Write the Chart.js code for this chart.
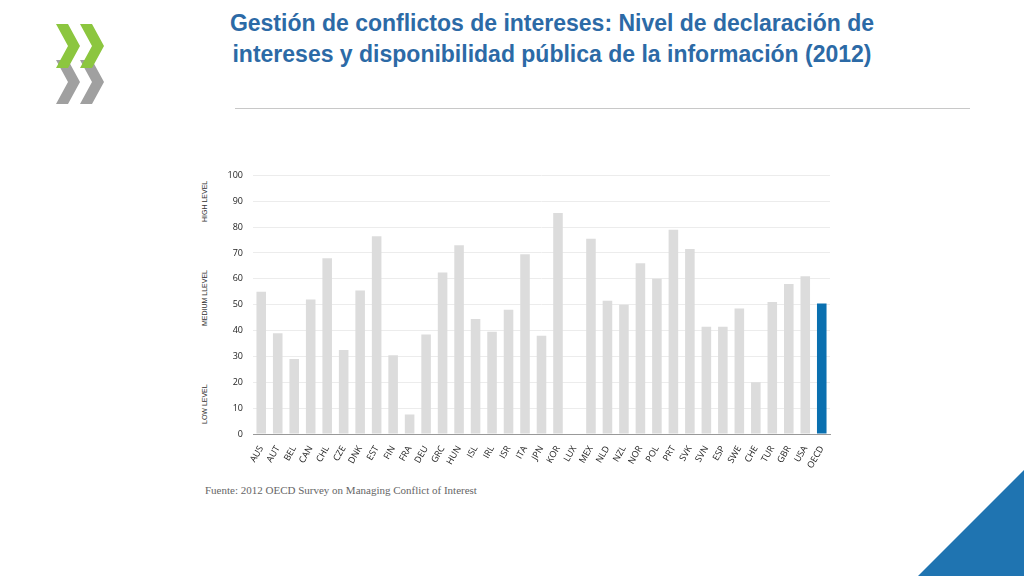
<!DOCTYPE html>
<html>
<head>
<meta charset="utf-8">
<script src="https://cdn.jsdelivr.net/npm/chart.js@4/dist/chart.umd.min.js"></script>
<style>
  body { margin: 0; width: 1024px; height: 576px; position: relative; background: #fff; overflow: hidden; font-family: "Liberation Sans", Arial, sans-serif; }
  #titulo { position: absolute; left: 228px; top: 8px; width: 648px; text-align: center; color: #2c6aa6; font-weight: bold; font-size: 23px; line-height: 31px; }
  #linea { position: absolute; left: 235px; top: 108px; width: 735px; height: 1px; background: #c8c8c8; }
  #grafico { position: absolute; left: 225px; top: 160px; width: 615px; height: 310px; }
  .lado { position: absolute; font-size: 7px; color: #333; transform: rotate(-90deg); transform-origin: left top; white-space: nowrap; }
  #fuente { position: absolute; left: 205px; top: 484px; font-family: "Liberation Serif", serif; font-size: 11px; color: #666; }
</style>
</head>
<body>
<svg style="position:absolute;left:50px;top:22px" width="62" height="84">
  <polygon points="30,38 42,38 54,60 42,82 30,82 42,60" fill="#a0a0a0"/>
  <polygon points="6,38 18,38 30,60 18,82 6,82 18,60" fill="#a0a0a0"/>
  <polygon points="6,2 18,2 30,24 18,46 6,46 18,24" fill="#8cc63f"/>
  <polygon points="30,2 42,2 54,24 42,46 30,46 42,24" fill="#8cc63f"/>
</svg>
<div id="titulo">Gestión de conflictos de intereses: Nivel de declaración de intereses y disponibilidad pública de la información (2012)</div>
<div id="linea"></div>
<div class="lado" style="left:201px;top:222px">HIGH LEVEL</div>
<div class="lado" style="left:201px;top:326px">MEDIUM LLEVEL</div>
<div class="lado" style="left:201px;top:424px">LOW LEVEL</div>
<div id="grafico"><canvas id="c"></canvas></div>
<div id="fuente">Fuente: 2012 OECD Survey on Managing Conflict of Interest</div>
<svg style="position:absolute;left:0;top:0" width="1024" height="576">
  <polygon points="1024,470 1024,576 918,576" fill="#1f74b1"/>
</svg>
<script>
// Paises y valores
const paises = ["AUS","AUT","BEL","CAN","CHL","CZE","DNK","EST","FIN","FRA","DEU","GRC","HUN","ISL","IRL","ISR","ITA","JPN","KOR","LUX","MEX","NLD","NZL","NOR","POL","PRT","SVK","SVN","ESP","SWE","CHE","TUR","GBR","USA","OECD"];
const valores = [55,39,29,52,68,32.5,55.5,76.5,30.5,7.5,38.5,62.5,73,44.5,39.5,48,69.5,38,85.5,0,75.5,51.5,50,66,60,79,71.5,41.5,41.5,48.5,20,51,58,61,50.5];
const ticksY = [0,10,20,30,40,50,60,70,80,90,100];

const colores = paises.map(p => p === "OECD" ? "#0a70b0" : "#dcdcdc");

new Chart(document.getElementById('c'), {
  type: 'bar',
  data: { labels: paises, datasets: [{ data: valores, backgroundColor: colores, categoryPercentage: 1, barPercentage: 0.58 }] },
  options: {
    responsive: true, maintainAspectRatio: false, animation: false,
    layout: { padding: { top: 6, right: 10 } },
    plugins: { legend: { display: false }, tooltip: { enabled: false } },
    scales: {
      x: {
        grid: { display: false }, border: { color: '#999' },
        ticks: { color: '#222', font: { size: 9, family: 'Open Sans' }, maxRotation: 60, minRotation: 60, padding: 2 },
        afterFit: s => { s.height = 36; }
      },
      y: {
        min: 0, max: 100,
        afterBuildTicks: s => { s.ticks = ticksY.map(v => ({ value: v })); },
        grid: { color: '#ececec', drawTicks: false }, border: { display: false },
        ticks: { color: '#222', font: { size: 9, family: 'Open Sans' }, padding: 10 },
        afterFit: s => { s.width = 28; }
      }
    }
  }
});
</script>
</body>
</html>
